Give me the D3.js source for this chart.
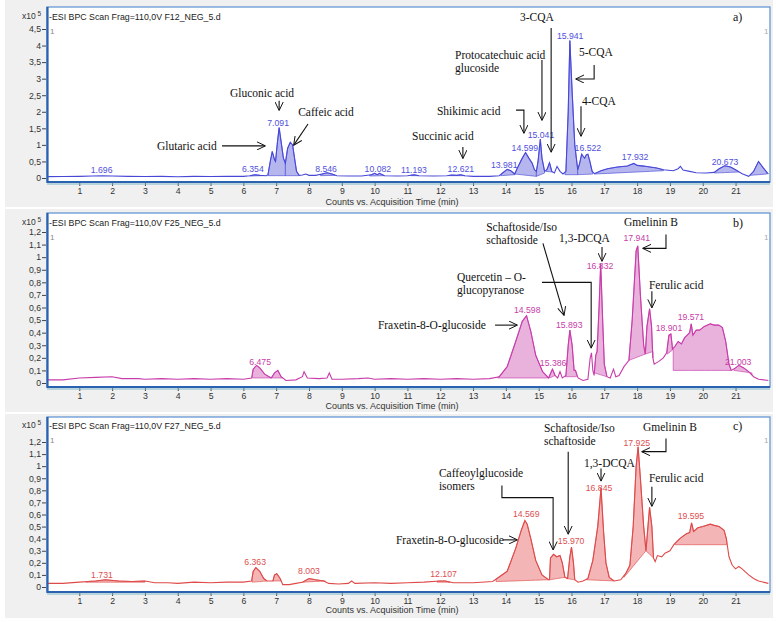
<!DOCTYPE html>
<html><head><meta charset="utf-8">
<script src="https://cdn.jsdelivr.net/npm/d3@7"></script>
<style>body{margin:0;background:#fff}</style>
</head><body><svg id="chart" width="776" height="622"></svg>
<script>
// ---------------- DATA ----------------
const timeTicks = [1,2,3,4,5,6,7,8,9,10,11,12,13,14,15,16,17,18,19,20,21];
const yTicksA = [0,0.5,1,1.5,2,2.5,3,3.5,4,4.5];
const yTicksBC = [0,0.1,0.2,0.3,0.4,0.5,0.6,0.7,0.8,0.9,1,1.1,1.2];
const headers = ["-ESI BPC Scan Frag=110,0V F12_NEG_5.d","-ESI BPC Scan Frag=110,0V F25_NEG_5.d","-ESI BPC Scan Frag=110,0V F27_NEG_5.d"];
const panelTags = ["a)","b)","c)"];

// trace: [time (min), counts x10^5]
const traceA = [[0,0.04],[0.5,0.045],[1,0.05],[1.4,0.06],[1.7,0.07],[2.0,0.06],[2.5,0.05],[3,0.045],[3.5,0.05],[4,0.04],[4.5,0.05],[5,0.045],[5.5,0.05],[6.0,0.05],[6.2,0.07],[6.35,0.1],[6.5,0.08],[6.7,0.07],[6.75,0.1],[6.82,0.5],[6.88,0.8],[6.95,0.55],[6.98,0.5],[7.04,1.1],[7.09,1.52],[7.15,1.1],[7.22,0.6],[7.28,0.45],[7.35,0.9],[7.43,1.08],[7.5,1.0],[7.56,0.6],[7.62,0.2],[7.7,0.08],[7.8,0.09],[7.9,0.12],[8.0,0.08],[8.2,0.08],[8.4,0.12],[8.55,0.16],[8.7,0.12],[8.85,0.07],[9.2,0.06],[9.6,0.06],[9.9,0.1],[10.0,0.14],[10.08,0.1],[10.15,0.14],[10.3,0.07],[10.7,0.06],[11.0,0.07],[11.2,0.1],[11.35,0.07],[11.8,0.06],[12.2,0.07],[12.35,0.09],[12.5,0.08],[12.62,0.1],[12.75,0.07],[13.0,0.05],[13.5,0.05],[13.8,0.07],[13.9,0.15],[14.04,0.26],[14.15,0.22],[14.27,0.12],[14.35,0.3],[14.5,0.6],[14.6,0.77],[14.7,0.6],[14.8,0.45],[14.87,0.25],[14.93,0.2],[14.98,0.5],[15.05,1.17],[15.1,0.6],[15.18,0.2],[15.25,0.25],[15.33,0.46],[15.4,0.2],[15.48,0.15],[15.56,0.35],[15.65,0.2],[15.74,0.12],[15.83,0.2],[15.9,2.0],[15.95,4.15],[16.02,2.6],[16.1,1.0],[16.19,0.25],[16.25,0.45],[16.31,0.72],[16.36,0.65],[16.4,0.6],[16.45,0.7],[16.5,0.72],[16.56,0.5],[16.63,0.2],[16.7,0.13],[16.9,0.22],[17.1,0.28],[17.4,0.33],[17.7,0.36],[17.9,0.44],[18.0,0.38],[18.2,0.36],[18.4,0.33],[18.6,0.3],[18.8,0.25],[19.1,0.22],[19.25,0.28],[19.32,0.35],[19.4,0.24],[19.6,0.2],[19.8,0.16],[20.1,0.15],[20.35,0.17],[20.5,0.28],[20.67,0.37],[20.85,0.33],[21.05,0.22],[21.2,0.13],[21.4,0.05],[21.55,0.2],[21.7,0.5],[21.85,0.3],[22.0,0.12]];
const traceB = [[0,0.025],[0.5,0.025],[1,0.04],[1.5,0.045],[2,0.05],[2.3,0.035],[2.8,0.035],[3,0.03],[3.5,0.035],[4,0.03],[4.5,0.035],[5,0.03],[5.5,0.035],[6,0.03],[6.25,0.04],[6.3,0.11],[6.4,0.14],[6.5,0.12],[6.65,0.07],[6.85,0.04],[6.95,0.08],[7.05,0.1],[7.15,0.05],[7.3,0.02],[7.6,0.025],[7.8,0.05],[7.85,0.09],[7.95,0.04],[8.3,0.035],[8.55,0.04],[8.62,0.08],[8.7,0.03],[9.0,0.03],[9.5,0.035],[9.8,0.04],[10.0,0.03],[10.5,0.035],[11,0.03],[11.5,0.035],[12,0.03],[12.5,0.035],[13,0.03],[13.5,0.035],[13.8,0.05],[14.04,0.13],[14.3,0.33],[14.5,0.49],[14.63,0.535],[14.76,0.41],[14.91,0.22],[15.12,0.09],[15.3,0.04],[15.42,0.11],[15.5,0.06],[15.58,0.04],[15.65,0.09],[15.72,0.04],[15.83,0.06],[15.9,0.3],[15.95,0.42],[16.02,0.3],[16.08,0.1],[16.12,0.1],[16.2,0.04],[16.35,0.02],[16.5,0.03],[16.57,0.2],[16.61,0.24],[16.65,0.1],[16.69,0.06],[16.74,0.22],[16.78,0.25],[16.84,0.6],[16.89,0.95],[16.95,0.5],[17.0,0.15],[17.08,0.05],[17.18,0.04],[17.28,0.11],[17.35,0.05],[17.45,0.06],[17.6,0.13],[17.75,0.18],[17.85,0.5],[17.97,1.05],[18.02,1.09],[18.1,0.7],[18.2,0.3],[18.25,0.23],[18.3,0.45],[18.38,0.59],[18.44,0.45],[18.48,0.2],[18.52,0.15],[18.65,0.17],[18.8,0.2],[18.9,0.24],[18.97,0.38],[19.03,0.39],[19.08,0.27],[19.15,0.29],[19.25,0.33],[19.35,0.31],[19.45,0.36],[19.6,0.40],[19.65,0.47],[19.7,0.38],[19.8,0.42],[19.9,0.42],[20.05,0.45],[20.23,0.47],[20.35,0.46],[20.49,0.46],[20.6,0.44],[20.7,0.33],[20.8,0.15],[20.87,0.1],[21.0,0.12],[21.1,0.14],[21.25,0.12],[21.4,0.09],[21.55,0.05],[21.7,0.03],[22.0,0.02]];
const traceC = [[0,0.03],[0.5,0.03],[1.0,0.04],[1.5,0.05],[1.8,0.06],[2.2,0.05],[2.6,0.045],[3.0,0.05],[3.3,0.035],[3.7,0.035],[4.0,0.03],[4.5,0.04],[5.0,0.035],[5.5,0.04],[6.0,0.04],[6.25,0.05],[6.3,0.13],[6.38,0.16],[6.5,0.13],[6.62,0.07],[6.72,0.05],[6.9,0.05],[6.95,0.1],[7.02,0.11],[7.12,0.07],[7.2,0.02],[7.4,0.02],[7.6,0.03],[7.8,0.04],[8.0,0.07],[8.2,0.06],[8.45,0.05],[8.6,0.03],[8.9,0.025],[9.2,0.03],[9.3,0.05],[9.4,0.03],[10.0,0.035],[10.5,0.03],[11,0.035],[11.5,0.04],[12.0,0.05],[12.15,0.05],[12.4,0.035],[13,0.035],[13.6,0.045],[14.04,0.13],[14.3,0.32],[14.47,0.47],[14.58,0.55],[14.65,0.52],[14.76,0.40],[14.91,0.22],[15.1,0.1],[15.3,0.06],[15.33,0.06],[15.36,0.24],[15.45,0.27],[15.55,0.25],[15.65,0.26],[15.72,0.2],[15.8,0.08],[15.88,0.07],[15.95,0.25],[16.0,0.33],[16.06,0.2],[16.1,0.06],[16.2,0.04],[16.35,0.05],[16.5,0.07],[16.65,0.22],[16.8,0.5],[16.9,0.82],[16.98,0.45],[17.05,0.2],[17.15,0.08],[17.3,0.05],[17.5,0.06],[17.65,0.11],[17.78,0.18],[17.88,0.5],[17.97,1.0],[18.03,1.16],[18.1,0.9],[18.2,0.5],[18.27,0.3],[18.33,0.5],[18.38,0.66],[18.45,0.5],[18.5,0.24],[18.55,0.21],[18.62,0.26],[18.75,0.25],[18.85,0.28],[19.0,0.3],[19.12,0.35],[19.3,0.4],[19.5,0.44],[19.6,0.45],[19.66,0.53],[19.72,0.46],[19.85,0.49],[20.0,0.5],[20.23,0.52],[20.35,0.51],[20.5,0.5],[20.65,0.47],[20.72,0.4],[20.8,0.25],[20.9,0.18],[21.0,0.15],[21.1,0.17],[21.2,0.15],[21.4,0.1],[21.55,0.07],[21.7,0.05],[22.0,0.03]];

// integrated peaks: [start, end, baseline at start, baseline at end]
const fillsA = [[6.2,6.55,0.06,0.07],[6.75,7.28,0.07,0.07],[7.28,7.7,0.07,0.07],[8.35,8.8,0.07,0.08],[9.85,10.3,0.06,0.07],[11.1,11.35,0.07,0.07],[12.25,12.75,0.07,0.07],[13.85,14.27,0.07,0.1],[14.27,14.93,0.12,0.05],[14.93,15.18,0.05,0.15],[15.22,15.42,0.2,0.18],[15.8,16.19,0.1,0.1],[16.19,16.65,0.1,0.12],[16.7,18.8,0.12,0.22],[20.35,21.1,0.15,0.18],[21.45,21.95,0.08,0.12]];
const fillsB = [[6.28,6.85,0.04,0.04],[6.88,7.2,0.04,0.04],[13.75,15.3,0.04,0.04],[15.33,15.5,0.04,0.06],[15.8,16.15,0.05,0.05],[16.7,17.08,0.08,0.05],[17.75,18.25,0.18,0.23],[18.25,18.48,0.23,0.25],[18.92,19.07,0.23,0.26],[19.1,20.85,0.1,0.1],[20.95,21.5,0.1,0.08]];
const fillsC = [[1.2,3.0,0.04,0.04],[6.27,6.72,0.04,0.05],[6.9,7.15,0.05,0.05],[7.8,8.5,0.04,0.05],[11.9,12.3,0.04,0.04],[13.7,15.3,0.045,0.06],[15.33,15.8,0.06,0.08],[15.85,16.1,0.07,0.06],[16.45,17.3,0.06,0.05],[17.6,18.27,0.08,0.3],[18.27,18.5,0.3,0.24],[19.15,20.73,0.35,0.35]];

// retention-time labels: [text, time, counts]
const rtLabelsA = [["1.696",1.68,0.16],["6.354",6.29,0.18],["7.091",7.06,1.57],["8.546",8.52,0.18],["10.082",10.1,0.18],["11.193",11.2,0.15],["12.621",12.63,0.18],["13.981",13.95,0.3],["14.599",14.58,0.81],["15.041",15.07,1.21],["15.941",15.96,4.2],["16.522",16.5,0.81],["17.932",17.94,0.54],["20.673",20.68,0.39]];
const rtLabelsB = [["6.475",6.51,0.14],["14.598",14.65,0.556],["15.386",15.44,0.135],["15.893",15.93,0.437],["16.832",16.87,0.906],["17.941",17.99,1.129],["18.901",18.97,0.413],["19.571",19.64,0.5],["21.003",21.08,0.143]];
const rtLabelsC = [["1.731",1.69,0.075],["6.363",6.36,0.182],["8.003",8.0,0.108],["12.107",12.1,0.083],["14.569",14.62,0.579],["15.970",15.99,0.356],["16.845",16.84,0.793],["17.925",17.99,1.167],["19.595",19.64,0.563]];

// compound annotations: [lines, time, counts] (left, first baseline)
const notesA = [[["Gluconic acid"],5.59,2.45],[["Caffeic acid"],7.67,1.87],[["Glutaric acid"],3.37,0.85],[["Succinic acid"],11.14,1.15],[["Shikimic acid"],11.9,1.9],[["Protocatechuic acid","glucoside"],12.45,3.59],[["3-CQA"],14.43,4.74],[["5-CQA"],16.23,3.68],[["4-CQA"],16.32,2.2]];
const notesB = [[["Gmelinin B"],17.6,1.25],[["1,3-DCQA"],15.62,1.12],[["Schaftoside/Iso","schaftoside"],13.4,1.21],[["Quercetin – O-","glucopyranose"],12.51,0.81],[["Fraxetin-8-O-glucoside"],10.1,0.43],[["Ferulic acid"],18.36,0.75]];
const notesC = [[["Gmelinin B"],18.18,1.29],[["Schaftoside/Iso","schaftoside"],15.16,1.28],[["1,3-DCQA"],16.38,0.99],[["Caffeoylglucoside","isomers"],11.96,0.91],[["Fraxetin-8-O-glucoside"],10.65,0.36],[["Ferulic acid"],18.36,0.87]];

// arrows: list of [time, counts] vertices, head at last vertex
const arrowsA = [[[7.09,2.33],[7.09,2.05]],[[7.97,1.63],[7.54,1.0]],[[5.35,0.97],[6.66,0.97]],[[12.69,0.94],[12.69,0.6]],[[14.31,2.05],[14.55,2.05],[14.55,1.36]],[[15.1,3.56],[15.1,1.75]],[[15.38,4.53],[15.38,0.79]],[[16.69,3.41],[16.69,2.99],[16.14,2.99]],[[16.29,2.17],[16.29,1.27]]];
const arrowsB = [[[18.88,1.18],[18.88,1.07],[18.18,1.07]],[[16.93,1.08],[16.93,0.97]],[[15.13,1.11],[15.77,0.54]],[[15.1,0.8],[16.6,0.8],[16.6,0.28]],[[13.67,0.46],[14.34,0.46]],[[18.45,0.73],[18.45,0.6]]];
const arrowsC = [[[18.88,1.23],[18.88,1.12],[18.15,1.12]],[[15.9,1.12],[15.9,0.44]],[[16.9,0.98],[16.9,0.88]],[[13.88,0.84],[13.88,0.74],[15.44,0.74],[15.44,0.31]],[[13.91,0.39],[14.34,0.39]],[[18.45,0.83],[18.45,0.67]]];

// ---------------- DRAW ----------------
const svg = d3.select("#chart");
const defs = svg.append("defs");
defs.append("marker").attr("id","ah").attr("viewBox","0 0 10 10").attr("refX",9).attr("refY",5)
  .attr("markerWidth",9).attr("markerHeight",9).attr("markerUnits","userSpaceOnUse").attr("orient","auto")
  .append("path").attr("d","M0,0.5 L9.5,5 L0,9.5").attr("fill","none").attr("stroke","#111").attr("stroke-width",1.1);

const x = d3.scaleLinear().domain([0,22.05]).range([46.5,770]);
const commaFmt = v => String(v).replace(".", ",");

const panels = [
  {trace:traceA, fills:fillsA, rt:rtLabelsA, notes:notesA, arrows:arrowsA, yTicks:yTicksA,
   yDom:[0,4.5], yRng:[178,29], bgTop:0, bgBot:207, top:7, axisY:182, head:20, xlab:205,
   line:"#4848d8", fill:"#b6b6ee", lab:"#5050dc"},
  {trace:traceB, fills:fillsB, rt:rtLabelsB, notes:notesB, arrows:arrowsB, yTicks:yTicksBC,
   yDom:[0,1.2], yRng:[383,232], bgTop:209, bgBot:412, top:213, axisY:387, head:226, xlab:409,
   line:"#c83caa", fill:"#e9b2dd", lab:"#c840a8"},
  {trace:traceC, fills:fillsC, rt:rtLabelsC, notes:notesC, arrows:arrowsC, yTicks:yTicksBC,
   yDom:[0,1.2], yRng:[587,442], bgTop:414, bgBot:618, top:417, axisY:592, head:429, xlab:613,
   line:"#de4a4a", fill:"#f3b5b5", lab:"#dc5050"}
];

function interp(tr, t){
  for(let i=1;i<tr.length;i++){
    if(tr[i][0]>=t){const a=tr[i-1], b=tr[i]; const f=(t-a[0])/(b[0]-a[0]); return a[1]+f*(b[1]-a[1]);}
  }
  return tr[tr.length-1][1];
}

panels.forEach((p,i)=>{
  const y = d3.scaleLinear().domain(p.yDom).range(p.yRng);
  const g = svg.append("g");
  g.append("rect").attr("x",5).attr("y",p.bgTop).attr("width",768).attr("height",p.bgBot-p.bgTop).attr("fill","#f0f0f0");
  g.append("rect").attr("x",47).attr("y",p.top).attr("width",723).attr("height",p.axisY-p.top)
    .attr("fill","#fff").attr("stroke","#5a8fd0").attr("stroke-width",1.2);

  const cid = "clip"+i;
  defs.append("clipPath").attr("id",cid).append("rect").attr("x",48).attr("y",p.top).attr("width",721).attr("height",p.axisY-p.top);
  const plot = g.append("g").attr("clip-path",`url(#${cid})`);

  p.fills.forEach(f=>{
    const [t0,t1,b0,b1]=f;
    const pts=[[t0,interp(p.trace,t0)]].concat(p.trace.filter(d=>d[0]>t0&&d[0]<t1)).concat([[t1,interp(p.trace,t1)]]);
    const base = t => b0+(b1-b0)*(t-t0)/(t1-t0);
    const area = d3.area().x(d=>x(d[0])).y1(d=>y(d[1])).y0(d=>y(base(d[0])));
    plot.append("path").attr("d",area(pts)).attr("fill",p.fill).attr("stroke",p.line).attr("stroke-width",0.8).attr("stroke-opacity",0.8);
  });
  plot.append("path").attr("d",d3.line().x(d=>x(d[0])).y(d=>y(d[1]))(p.trace))
    .attr("fill","none").attr("stroke",p.line).attr("stroke-width",1.1);

  const sans = "Liberation Sans, Arial, sans-serif";
  const yAxis = d3.axisLeft(y).tickValues(p.yTicks).tickFormat(commaFmt).tickSize(4).tickPadding(1);
  const ya = g.append("g").attr("transform","translate(46,0)").call(yAxis);
  ya.select(".domain").remove();
  ya.selectAll("text").attr("font-family",sans).attr("font-size",8.7).attr("fill","#333");
  ya.selectAll("line").attr("stroke","#444");
  const xAxis = d3.axisBottom(x).tickValues(timeTicks).tickFormat(d=>d).tickSize(3).tickPadding(2);
  const xa = g.append("g").attr("transform",`translate(0,${p.axisY+1})`).call(xAxis);
  xa.select(".domain").remove();
  xa.selectAll("text").attr("font-family",sans).attr("font-size",8.7).attr("fill","#333");
  xa.selectAll("line").attr("stroke","#444");

  g.append("line").attr("x1",47.5).attr("x2",47.5).attr("y1",p.top).attr("y2",p.axisY+1).attr("stroke","#2a62b0").attr("stroke-width",2.2);
  g.append("line").attr("x1",47).attr("x2",770).attr("y1",p.axisY).attr("y2",p.axisY).attr("stroke","#2a62b0").attr("stroke-width",2);
  g.append("line").attr("x1",47).attr("x2",770).attr("y1",p.axisY+2).attr("y2",p.axisY+2).attr("stroke","#7fb6c8").attr("stroke-width",1);

  g.append("text").attr("x",22).attr("y",p.head-1).attr("font-family",sans).attr("font-size",8.5).attr("fill","#333")
    .text("x10").append("tspan").attr("dy",-3).attr("font-size",6.5).text(" 5");
  g.append("text").attr("x",49).attr("y",p.head).attr("font-family",sans).attr("font-size",8.8).attr("fill","#222").text(headers[i]);
  g.append("text").attr("x",50).attr("y",p.head+14).attr("font-family",sans).attr("font-size",8).attr("fill","#888").text("1");
  g.append("text").attr("x",764).attr("y",p.head+14).attr("font-family",sans).attr("font-size",8).attr("fill","#aaa").text("1");
  g.append("text").attr("x",392).attr("y",p.xlab).attr("text-anchor","middle").attr("font-family",sans).attr("font-size",9).attr("fill","#333")
    .text("Counts vs. Acquisition Time (min)");

  g.selectAll(".rt").data(p.rt).enter().append("text")
    .attr("x",d=>x(d[1])).attr("y",d=>y(d[2])).attr("text-anchor","middle")
    .attr("font-family",sans).attr("font-size",8.7).attr("fill",p.lab).text(d=>d[0]);

  const serif = "Palatino Linotype, Book Antiqua, Liberation Serif, DejaVu Serif, serif";
  p.notes.forEach(n=>{
    const t = g.append("text").attr("font-family",serif).attr("font-size",11.5).attr("fill","#111");
    n[0].forEach((ln,k)=>t.append("tspan").attr("x",x(n[1])).attr("y",y(n[2])+k*13).text(ln));
  });
  g.append("text").attr("x",733).attr("y",p.head+1).attr("font-family",serif).attr("font-size",12).attr("fill","#111").text(panelTags[i]);

  p.arrows.forEach(a=>{
    g.append("path").attr("d",d3.line().x(d=>x(d[0])).y(d=>y(d[1]))(a))
      .attr("fill","none").attr("stroke","#111").attr("stroke-width",1.1).attr("marker-end","url(#ah)");
  });
});
</script></body></html>
